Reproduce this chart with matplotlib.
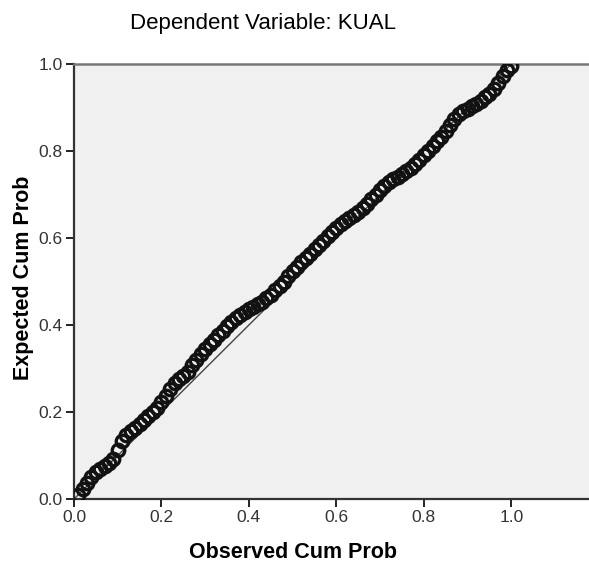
import matplotlib
matplotlib.use("Agg")
import matplotlib.pyplot as plt

# P-P plot data
observed = [0.01, 0.02, 0.03, 0.04, 0.05, 0.06, 0.07, 0.08, 0.09, 0.10,
            0.11, 0.12, 0.13, 0.14, 0.15, 0.16, 0.17, 0.18, 0.19, 0.20,
            0.21, 0.22, 0.23, 0.24, 0.25, 0.26, 0.27, 0.28, 0.29, 0.30,
            0.31, 0.32, 0.33, 0.34, 0.35, 0.36, 0.37, 0.38, 0.39, 0.40,
            0.41, 0.42, 0.43, 0.44, 0.45, 0.46, 0.47, 0.48, 0.49, 0.50,
            0.51, 0.52, 0.53, 0.54, 0.55, 0.56, 0.57, 0.58, 0.59, 0.60,
            0.61, 0.62, 0.63, 0.64, 0.65, 0.66, 0.67, 0.68, 0.69, 0.70,
            0.71, 0.72, 0.73, 0.74, 0.75, 0.76, 0.77, 0.78, 0.79, 0.80,
            0.81, 0.82, 0.83, 0.84, 0.85, 0.86, 0.87, 0.88, 0.89, 0.90,
            0.91, 0.92, 0.93, 0.94, 0.95, 0.96, 0.97, 0.98, 0.99, 1.00]
expected = [0.010, 0.022, 0.036, 0.050, 0.063, 0.070, 0.075, 0.082, 0.092, 0.112,
            0.133, 0.146, 0.156, 0.164, 0.173, 0.182, 0.190, 0.199, 0.209, 0.222,
            0.237, 0.252, 0.267, 0.275, 0.282, 0.291, 0.308, 0.320, 0.333, 0.345,
            0.356, 0.366, 0.377, 0.387, 0.397, 0.407, 0.416, 0.424, 0.431, 0.437,
            0.442, 0.448, 0.454, 0.461, 0.470, 0.480, 0.490, 0.500, 0.513, 0.524,
            0.534, 0.544, 0.554, 0.564, 0.574, 0.584, 0.594, 0.604, 0.614, 0.624,
            0.633, 0.640, 0.646, 0.652, 0.659, 0.668, 0.679, 0.690, 0.700, 0.710,
            0.719, 0.728, 0.735, 0.741, 0.747, 0.754, 0.762, 0.771, 0.780, 0.790,
            0.801, 0.812, 0.823, 0.833, 0.845, 0.859, 0.873, 0.885, 0.891, 0.897,
            0.903, 0.909, 0.916, 0.924, 0.932, 0.942, 0.956, 0.972, 0.986, 0.995]
ref_line = [0.0, 1.0]
ticks = [0.0, 0.2, 0.4, 0.6, 0.8, 1.0]
tick_labels = ["0.0", "0.2", "0.4", "0.6", "0.8", "1.0"]

plt.rcParams['font.family'] = ['Liberation Sans', 'DejaVu Sans']

fig = plt.figure(figsize=(5.89, 5.67), dpi=100)
ax = fig.add_axes([74/589, 1 - 499/567, 1.0 - 74/589 + 0.01, (499 - 64)/567])
ax.set_facecolor("#f0f0f0")

ax.plot(ref_line, ref_line, color="#444444", lw=1.0, zorder=2)
ax.plot(observed, expected, linestyle="none", marker="o", ms=9, mfc="none",
        mec="#121212", mew=2.4, zorder=3)

ax.set_xlim(0, (589 - 74)/436 + 0.01)
ax.set_ylim(0, 1.0)
ax.set_xticks(ticks)
ax.set_xticklabels(tick_labels)
ax.set_yticks(ticks)
ax.set_yticklabels(tick_labels)
ax.tick_params(direction="out", length=6, width=1.4, colors="#222222",
               labelsize=12.5, labelcolor="#333333", pad=2)

for s in ["left", "bottom"]:
    ax.spines[s].set_color("#333333")
    ax.spines[s].set_linewidth(1.6)
ax.spines["top"].set_color("#777777")
ax.spines["top"].set_linewidth(1.8)
ax.spines["right"].set_visible(False)

fig.text(263/589, 1 - 24/567, "Dependent Variable: KUAL", ha="center", va="center",
         fontsize=16)
fig.text(293/589, 1 - 552/567, "Observed Cum Prob", ha="center", va="center",
         fontsize=15.5, fontweight="bold")
fig.text(24/589, 1 - 278/567, "Expected Cum Prob", ha="center", va="center",
         fontsize=15.5, fontweight="bold", rotation=90)

fig.savefig("out.png", dpi=100)
